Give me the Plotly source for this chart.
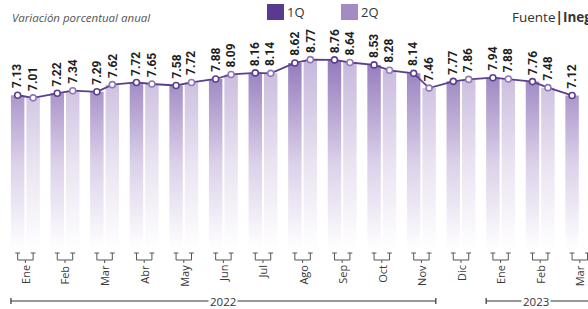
import plotly.graph_objects as go

months = ["Ene", "Feb", "Mar", "Abr", "May", "Jun", "Jul", "Ago", "Sep", "Oct", "Nov", "Dic",
          "Ene", "Feb", "Mar"]
q1 = [7.13, 7.22, 7.29, 7.72, 7.58, 7.88, 8.16, 8.62, 8.76, 8.53, 8.14, 7.77, 7.94, 7.76, 7.12]
q2 = [7.01, 7.34, 7.62, 7.65, 7.72, 8.09, 8.14, 8.77, 8.64, 8.28, 7.46, 7.86, 7.88, 7.48, None]
years = ["2022", "2023"]
year_span = [(0, 11), (12, 15)]

W, H = 588, 309
OFF = 0.195
BW = 0.34
XR = [-0.641, 14.207]
YDOM0 = 0.191
YR = [0, 11.52]

C1 = "#5b3a8e"
C2 = "#a58bc4"
LINE = "#5b3f8f"


def py(px):
    return 1 - px / H


def bars_poly(vals, off):
    xs, ys = [], []
    for i, v in enumerate(vals):
        if v is None:
            continue
        c = i + off
        xs += [c - BW / 2, c + BW / 2, c + BW / 2, c - BW / 2, c - BW / 2, None]
        ys += [0, 0, v, v, 0, None]
    return xs, ys


fig = go.Figure()

x1, y1 = bars_poly(q1, -OFF)
x2, y2 = bars_poly(q2, OFF)
fig.add_trace(go.Scatter(
    x=x1, y=y1, mode="lines", fill="toself", line=dict(width=0),
    fillgradient=dict(type="vertical", start=0, stop=9,
                      colorscale=[[0, "#ffffff"], [0.45, "#dbd0e9"], [1, "#8f75b9"]]),
    hoverinfo="skip", name="1Q"))
fig.add_trace(go.Scatter(
    x=x2, y=y2, mode="lines", fill="toself", line=dict(width=0),
    fillgradient=dict(type="vertical", start=0, stop=9,
                      colorscale=[[0, "#ffffff"], [0.45, "#eae3f1"], [1, "#c4b5db"]]),
    hoverinfo="skip", name="2Q"))

lx, lv, mcol = [], [], []
for i in range(len(months)):
    for v, off, col in ((q1[i], -OFF, LINE), (q2[i], OFF, "#8f78b6")):
        if v is not None:
            lx.append(i + off)
            lv.append(v)
            mcol.append(col)
fig.add_trace(go.Scatter(
    x=lx, y=lv, mode="lines+markers",
    line=dict(color=LINE, width=1.8),
    marker=dict(size=6, color="white", line=dict(color=mcol, width=1.6)),
    hoverinfo="skip"))

ann = []
shapes = []
for i, v in enumerate(lv):
    ann.append(dict(x=lx[i], y=v, xref="x", yref="y", text="<b>%.2f</b>" % v,
                    textangle=-90, showarrow=False, xanchor="center", yanchor="bottom",
                    yshift=5, font=dict(family="Roboto", size=12, color="#1e1e1e")))

for i, m in enumerate(months):
    ann.append(dict(x=i, y=py(263), xref="x", yref="paper", text=m, textangle=-90,
                    showarrow=False, xanchor="center", yanchor="top",
                    font=dict(family="Open Sans", size=11, color="#3a3a3a")))
    a, b = i - OFF, i + OFF
    for xx in (a, b):
        shapes.append(dict(type="line", xref="x", yref="paper", x0=xx, x1=xx,
                           y0=py(253), y1=py(260), line=dict(color="#555", width=1)))
        shapes.append(dict(type="line", xref="x", yref="paper", x0=xx - 0.06, x1=xx + 0.06,
                           y0=py(253), y1=py(253), line=dict(color="#555", width=1)))
    shapes.append(dict(type="line", xref="x", yref="paper", x0=a, x1=b,
                       y0=py(260), y1=py(260), line=dict(color="#555", width=1)))
    shapes.append(dict(type="line", xref="x", yref="paper", x0=i, x1=i,
                       y0=py(260), y1=py(263), line=dict(color="#555", width=1)))

for yl, (s, e) in zip(years, year_span):
    x0 = s - OFF - BW / 2
    x1e = (e - 1) + OFF + BW / 2
    shapes.append(dict(type="line", xref="x", yref="paper", x0=x0, x1=x1e,
                       y0=py(301), y1=py(301), line=dict(color="#333", width=1.2)))
    for xx in (x0, x1e):
        shapes.append(dict(type="line", xref="x", yref="paper", x0=xx, x1=xx,
                           y0=py(298), y1=py(304), line=dict(color="#333", width=1.2)))
    ann.append(dict(x=(x0 + x1e) / 2 if yl == "2022" else 12.9, y=py(301), xref="x", yref="paper",
                    text=yl, showarrow=False, xanchor="center", yanchor="middle",
                    bgcolor="white", borderpad=1,
                    font=dict(family="Open Sans", size=11.5, color="#333")))

# legend
for xs, col, lab in ((267, C1, "1Q"), (341, C2, "2Q")):
    shapes.append(dict(type="rect", xref="paper", yref="paper", x0=xs / W, x1=(xs + 17) / W,
                       y0=py(20), y1=py(4), fillcolor=col, line=dict(width=0)))
    ann.append(dict(x=(xs + 18) / W, y=py(12), xref="paper", yref="paper", text=lab,
                    showarrow=False, xanchor="left", yanchor="middle",
                    font=dict(family="Open Sans", size=13, color="#333")))

ann.append(dict(x=10 / W, y=py(17), xref="paper", yref="paper",
                text="<i>Variación porcentual anual</i>", showarrow=False,
                xanchor="left", yanchor="middle",
                font=dict(family="Open Sans", size=11.5, color="#555")))
ann.append(dict(x=510 / W, y=py(17), xref="paper", yref="paper",
                text="Fuente<b>|Inegi</b>", showarrow=False,
                xanchor="left", yanchor="middle",
                font=dict(family="Open Sans", size=13.5, color="#333")))

fig.update_layout(
    width=W, height=H, margin=dict(l=0, r=0, t=0, b=0),
    paper_bgcolor="white", plot_bgcolor="white", showlegend=False,
    xaxis=dict(range=XR, visible=False, fixedrange=True),
    yaxis=dict(range=YR, domain=[YDOM0, 1], visible=False, fixedrange=True),
    annotations=ann, shapes=shapes, hovermode=False,
)
fig.write_html("out.html", config={"displayModeBar": False, "staticPlot": True},
               post_script="document.body.style.margin='0';document.body.style.overflow='hidden';")
